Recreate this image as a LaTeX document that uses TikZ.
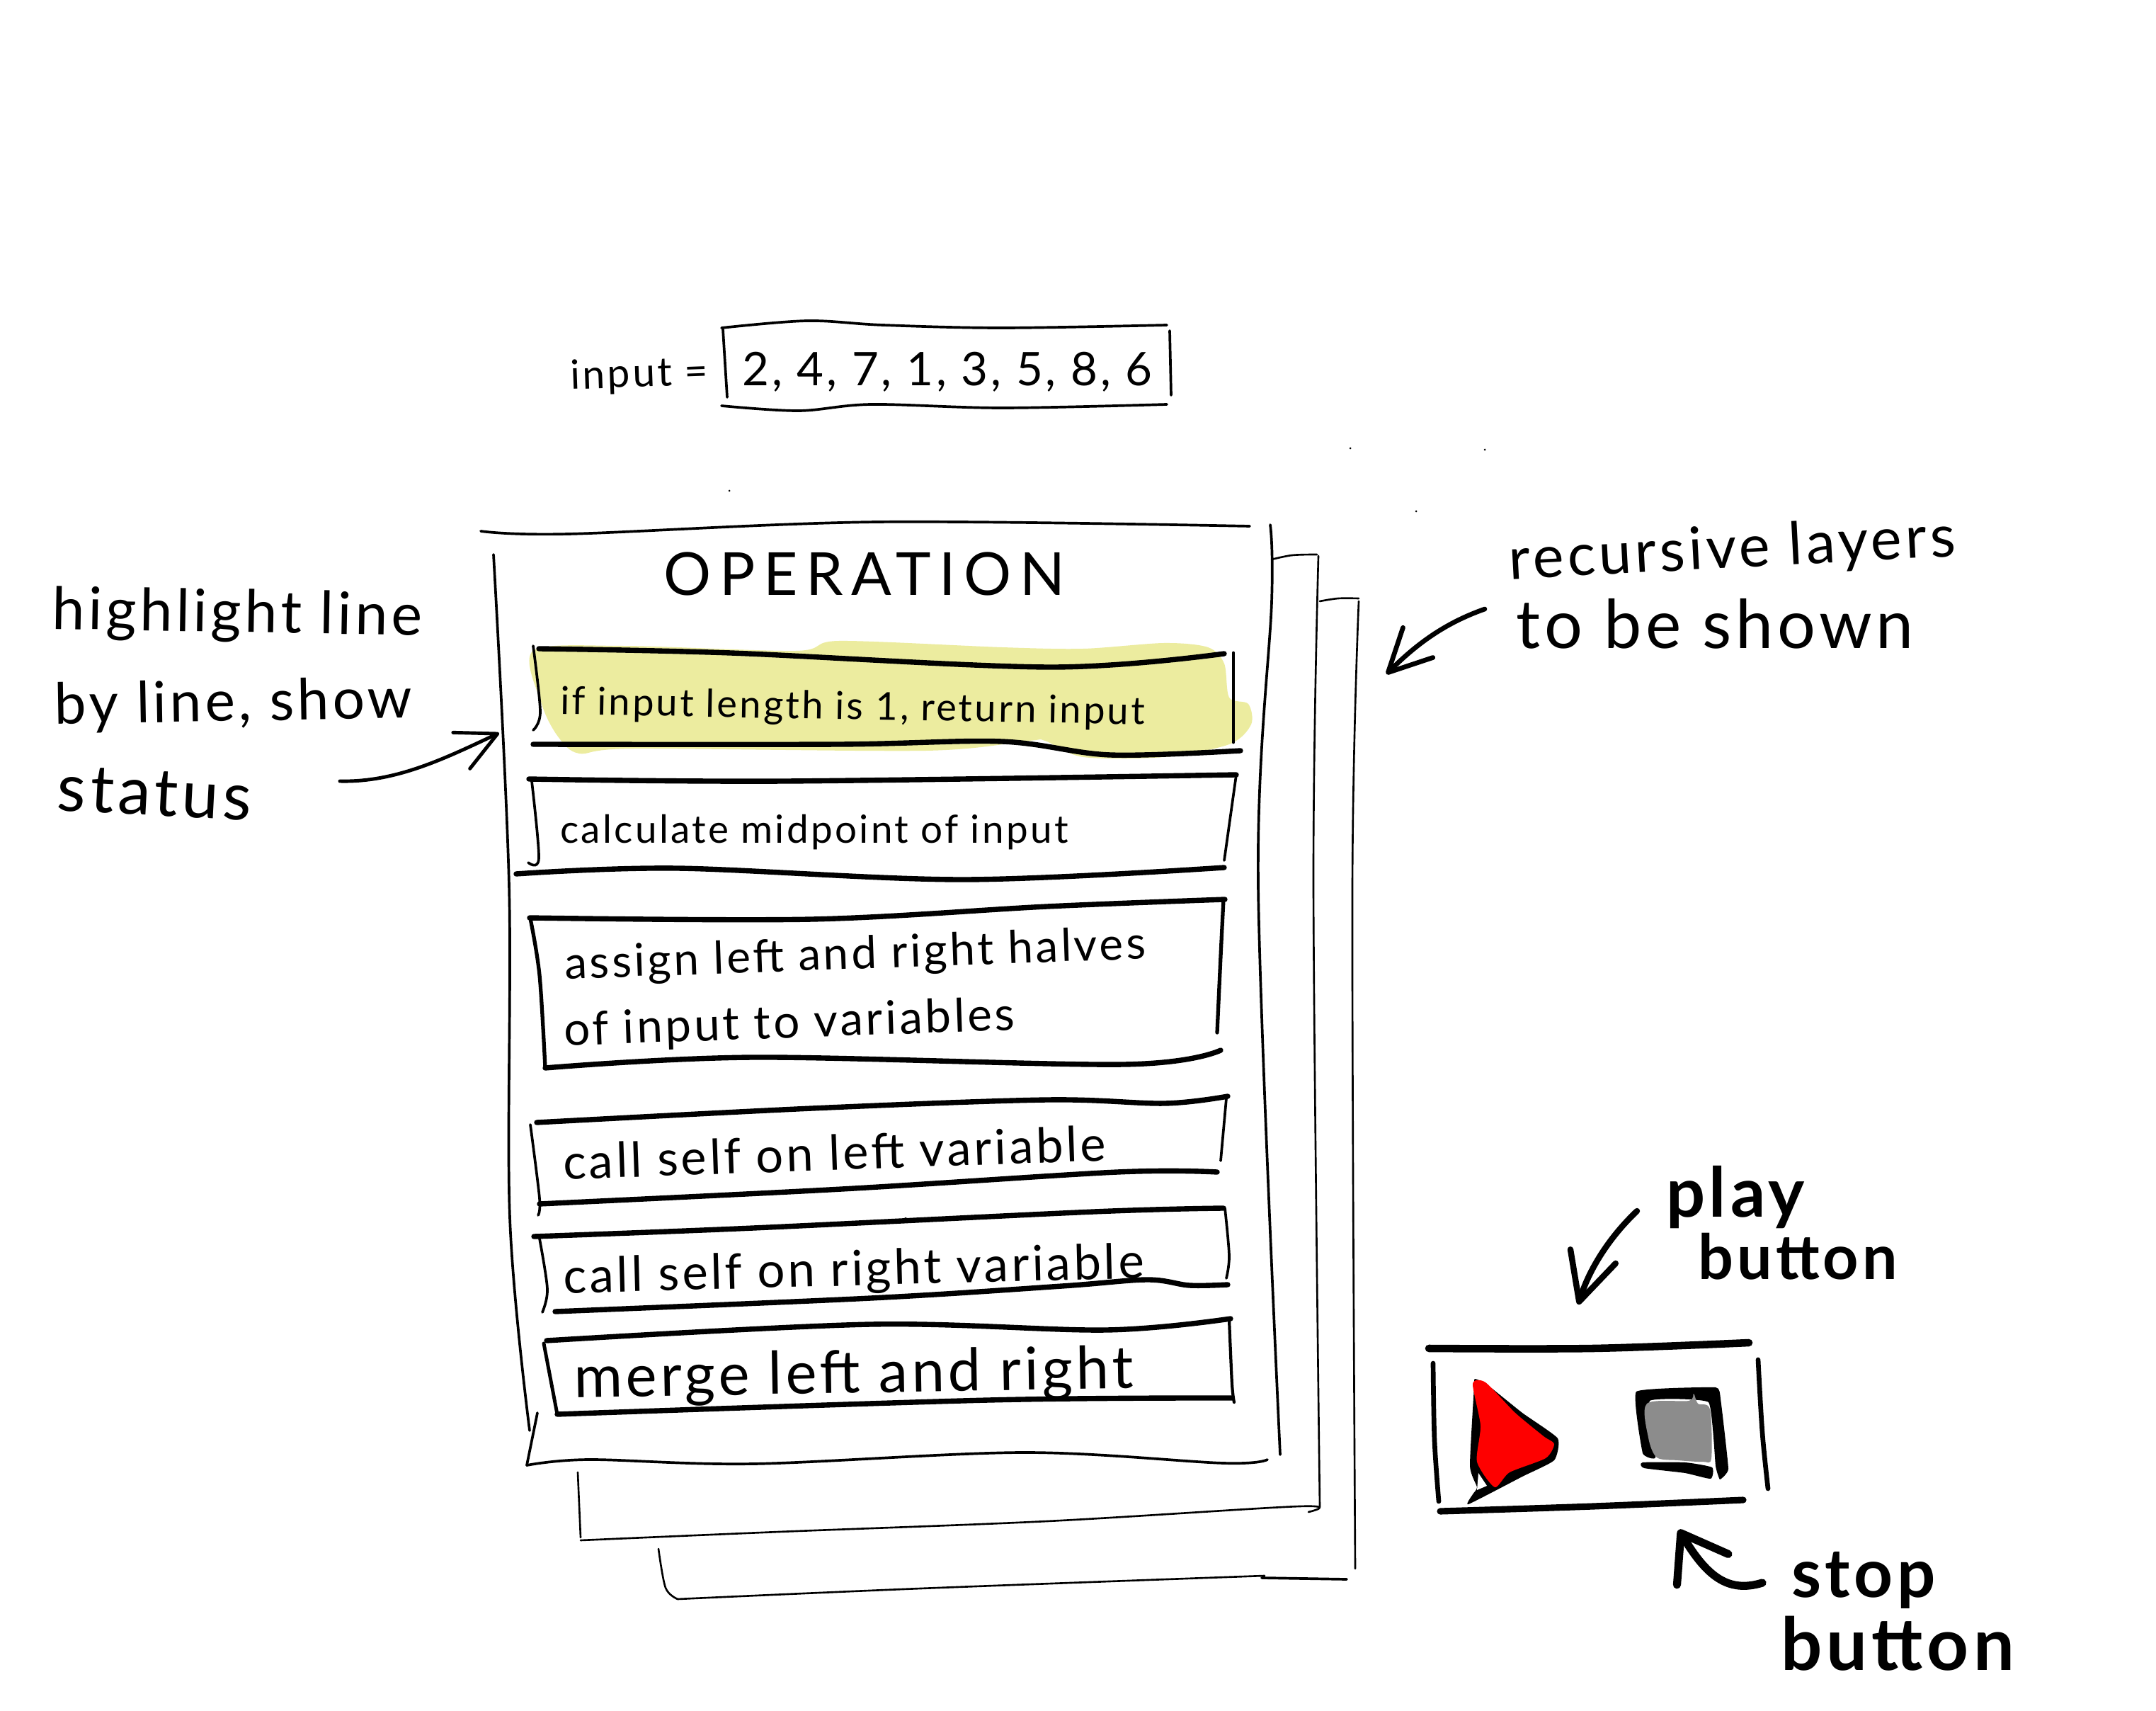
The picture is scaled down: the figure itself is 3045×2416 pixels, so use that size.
\documentclass[tikz,border=0pt]{standalone}
\usepackage{fontspec}
\setmainfont{Lato}
\usetikzlibrary{arrows.meta}
\definecolor{hilite}{HTML}{ECEC9F}
\definecolor{stopgrey}{HTML}{8C8C8C}
\definecolor{playred}{HTML}{FE0000}
\tikzset{
  pen/.style={line width=#1,line cap=round,line join=round,draw=black},
  pen/.default=1pt,
  layerline/.style={pen=0.75pt},
  pageline/.style={pen=1.05pt},
  rowedge/.style={pen=2.1pt},
  rowside/.style={pen=1.05pt},
  hand/.style={inner sep=0pt,outer sep=0pt,anchor=center,yshift=-2.5pt},
  barbtip/.style={-{Straight Barb[length=#1,width=#1,round]}},
}
% fitted label: name, x, y, width in px, rotation, text
\newcommand{\fitlabel}[6]{\node[hand,rotate=#5] (#1) at (#2,#3) {\resizebox{#4\pxunit}{!}{\addfontfeature{LetterSpace=6}\strut #6}};}
\newdimen\pxunit \pxunit=0.01cm
\newcommand{\sk}[2]{\draw[#1] plot[smooth,tension=.55] coordinates {#2};}
\begin{document}
\begin{tikzpicture}[x=0.01cm,y=-0.01cm]
\useasboundingbox (0,0) rectangle (3045,2416);
\fill[white] (0,0) rectangle (3045,2416);

% stray specks
\fill (1030,693) circle (1.5);
\fill (1907,633) circle (1.5);
\fill (2097,635) circle (1.5);
\fill (2000,722) circle (1.5);
\fill (1279,1721) circle (2);

% input box
\sk{rowside}{(1019,463)(1140,453)(1247,459)(1415,463)(1648,459)}
\sk{rowside}{(1019,573)(1128,580)(1231,571)(1415,576)(1648,571)}
\sk{rowside}{(1021,465)(1027,561)}
\sk{rowside}{(1652,467)(1654,558)}

% back layers
\sk{layerline}{(1796,790)(1825,784)(1860,783)}
\sk{layerline}{(1862,785)(1855,1250)(1864,2128)}
\sk{layerline}{(816,2079)(820,2171)}
\sk{layerline}{(820,2175)(1100,2163)(1479,2148)(1835,2127)(1848,2135)}
\sk{layerline}{(1864,849)(1890,845)(1919,845)}
\sk{layerline}{(1919,849)(1910,1250)(1914,2215)}
\sk{rowside}{(1782,2228)(1902,2230)}
\sk{layerline}{(930,2187)(940,2242)(957,2258)}
\sk{layerline}{(957,2258)(1300,2243)(1786,2225)}

% main page
\sk{pageline}{(679,750)(803,754)(1239,737)(1765,743)}
\sk{pageline}{(1794,741)(1796,850)(1777,1250)(1808,2054)}
\sk{pageline}{(697,783)(719,1250)(720,1719)(748,2020)}
\sk{pageline}{(759,1995)(744,2069)}
\sk{pageline}{(744,2069)(832,2061)(1064,2067)(1446,2051)(1728,2066)(1790,2061)}

% highlight blob
\fill[hilite] plot[smooth cycle,tension=.5] coordinates {(753,919)(880,912)(1124,919)(1185,905)(1415,914)(1530,916)(1644,908)(1706,914)(1729,937)(1736,985)(1763,994)(1767,1023)(1736,1051)(1644,1069)(1530,1069)(1476,1046)(1453,1046)(1308,1060)(895,1057)(818,1064)(788,1040)(765,994)};

% row 1
\sk{rowedge}{(761,916)(1032,922)(1484,942)(1729,923)}
\sk{rowedge}{(753,1051)(1185,1051)(1415,1047)(1568,1066)(1752,1060)}
\sk{rowside}{(753,912)(763,1005)(753,1031)}
\sk{pen=1.4pt}{(1742,922)(1742,1048)}
% row 2
\sk{rowedge}{(747,1100)(1109,1103)(1746,1094)}
\sk{rowedge}{(729,1234)(956,1226)(1361,1242)(1729,1225)}
\sk{rowside}{(751,1103)(761,1212)(746,1218)}
\sk{rowside}{(1746,1094)(1729,1215)}
% row 3
\sk{rowedge}{(748,1296)(1147,1298)(1479,1280)(1730,1270)}
\sk{rowedge}{(770,1508)(1065,1493)(1587,1503)(1724,1483)}
\sk{pen=1.5pt}{(749,1297)(762,1377)(770,1508)}
\sk{pen=1.5pt}{(1728,1270)(1724,1350)(1719,1458)}
% row 4
\sk{rowedge}{(758,1585)(1147,1565)(1479,1553)(1645,1558)(1734,1548)}
\sk{rowedge}{(762,1700)(1189,1679)(1578,1655)(1719,1655)}
\sk{rowside}{(749,1588)(762,1692)(760,1716)}
\sk{rowside}{(1732,1551)(1724,1639)}
% row 5
\sk{rowedge}{(754,1746)(1064,1734)(1545,1711)(1728,1706)}
\sk{rowedge}{(784,1852)(1230,1833)(1500,1816)(1620,1807)(1680,1815)(1734,1814)}
\sk{rowside}{(762,1749)(773,1820)(766,1853)}
\sk{rowside}{(1730,1706)(1736,1773)(1732,1805)}
% row 6
\sk{rowedge}{(772,1893)(1230,1870)(1562,1878)(1738,1862)}
\sk{rowedge}{(787,1997)(1396,1977)(1740,1974)}
\sk{pen=1.4pt}{(768,1897)(787,1997)}
\sk{pen=1.2pt}{(1736,1863)(1740,1954)(1743,1980)}

% control panel bars
\sk{pen=3pt}{(2018,1904)(2250,1904)(2470,1896)}
\sk{pen=2.6pt}{(2034,2134)(2250,2127)(2462,2118)}
\sk{pen=1.9pt}{(2024,1925)(2026,2034)(2032,2120)}
\sk{pen=1.9pt}{(2483,1920)(2489,2023)(2497,2102)}

% play button
\fill plot[smooth cycle,tension=.3] coordinates {(2083,1947)(2100,1955)(2150,1995)(2200,2031)(2195,2062)(2150,2085)(2074,2124)(2080,2110)(2086,2100)(2076,2070)(2082,1957)};
\fill[white] (2088,2080) -- (2100,2098) -- (2086,2104) -- cycle;
\fill[playred] plot[smooth cycle,tension=.4] coordinates {(2080,1954)(2098,1952)(2140,1995)(2180,2028)(2195,2039)(2183,2059)(2132,2079)(2111,2100)(2086,2064)(2091,2013)};

% stop button
\fill plot[smooth cycle,tension=.2] coordinates {(2311,1965)(2423,1959)(2430,1975)(2441,2074)(2429,2089)(2423,2070)(2413,1980)(2330,1978)(2338,2058)(2320,2052)};
\fill plot[smooth cycle,tension=.3] coordinates {(2320,2065)(2380,2065)(2418,2072)(2416,2088)(2380,2080)(2322,2073)};
\fill[stopgrey] plot[smooth cycle,tension=.5] coordinates {(2326,1982)(2385,1978)(2392,1968)(2398,1982)(2415,1990)(2417,2059)(2405,2064)(2370,2062)(2340,2058)(2328,2030)};

% arrows
\coordinate (hlTail) at (480,1103);
\coordinate (hlTip) at (705,1035);
\coordinate (recTail) at (2097,860);
\coordinate (recTip) at (1958,952);
\coordinate (playTail) at (2312,1710);
\coordinate (playTip) at (2229,1842);
\coordinate (stopTail) at (2489,2235);
\coordinate (stopTip) at (2371,2160);
\draw[pen=1.4pt,barbtip=16pt] (hlTail) .. controls (560,1105) and (630,1070) .. (hlTip);
\draw[pen=1.9pt,barbtip=17pt] (recTail) .. controls (2040,880) and (2000,910) .. (recTip);
\draw[pen=2.4pt,barbtip=19pt] (playTail) .. controls (2275,1745) and (2245,1790) .. (playTip);
\draw[pen=3.2pt,-{Straight Barb[length=17pt,width=24pt,round]}] (stopTail) .. controls (2440,2250) and (2410,2225) .. (stopTip);

% labels
\fitlabel{lInput}{903}{524}{194}{2}{input =}
\fitlabel{lNums}{1338}{520}{579}{0}{2, 4, 7, 1, 3, 5, 8, 6}
\fitlabel{lOp}{1221}{812}{567}{0}{\addfontfeature{LetterSpace=14}OPERATION}
\fitlabel{lR1}{1204}{994}{825}{-1}{if input length is 1, return input}
\fitlabel{lR2}{1150}{1169}{717}{0}{calculate midpoint of input}
\fitlabel{lR3a}{1208}{1344}{821}{2}{assign left and right halves}
\fitlabel{lR3b}{1115}{1441}{637}{2}{of input to variables}
\fitlabel{lR4}{1179}{1627}{767}{2}{call self on left variable}
\fitlabel{lR5}{1206}{1790}{820}{1.5}{call self on right variable}
\fitlabel{lR6}{1206}{1938}{790}{1}{merge left and right}
\fitlabel{lHa}{335}{864}{522}{-1}{highlight line}
\fitlabel{lHb}{330}{990}{505}{1}{by line, show}
\fitlabel{lHc}{218}{1120}{274}{-3}{status}
\fitlabel{lRa}{2447}{773}{631}{3}{recursive layers}
\fitlabel{lRb}{2422}{884}{561}{0}{to be shown}
\fitlabel{lPa}{2451}{1686}{196}{0}{\bfseries play}
\fitlabel{lPb}{2539}{1777}{282}{0}{\bfseries button}
\fitlabel{lSa}{2632}{2224}{204}{0}{\bfseries stop}
\fitlabel{lSb}{2680}{2325}{330}{0}{\bfseries button}
\end{tikzpicture}
\end{document}
